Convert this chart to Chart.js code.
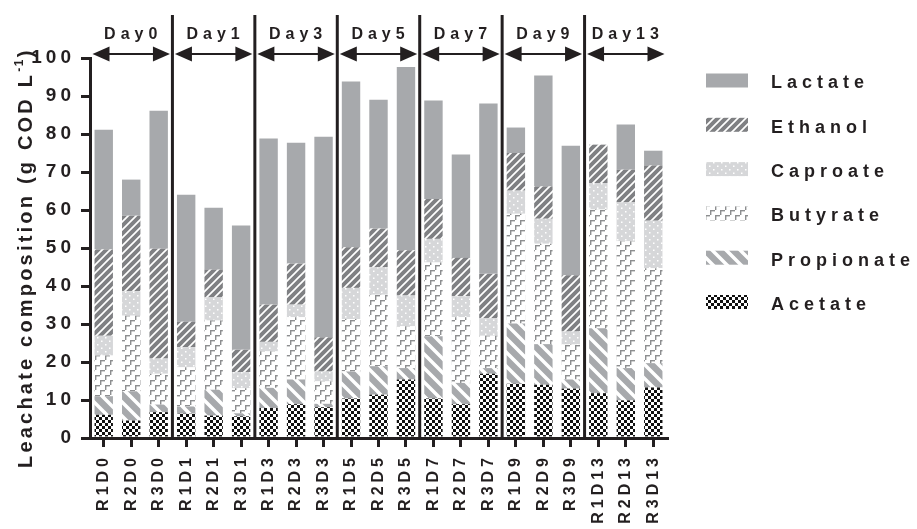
<!DOCTYPE html>
<html>
<head>
<meta charset="utf-8">
<title>Leachate composition</title>
<script src="https://cdn.jsdelivr.net/npm/chart.js@4.4.1/dist/chart.umd.min.js"></script>
<style>
    body { margin: 0; background: #fff; }
    canvas { display: block; }
</style>
</head>
<body>
<canvas id="myChart" width="917" height="529"></canvas>
<script>
// samples: reactor (R1-R3) and sampling day
const labels = [
    'R1D0', 'R2D0', 'R3D0', 'R1D1', 'R2D1', 'R3D1', 'R1D3', 'R2D3', 'R3D3',
    'R1D5', 'R2D5', 'R3D5', 'R1D7', 'R2D7', 'R3D7', 'R1D9', 'R2D9', 'R3D9',
    'R1D13', 'R2D13', 'R3D13'
];
const days = ['Day0', 'Day1', 'Day3', 'Day5', 'Day7', 'Day9', 'Day13'];
const yTicks = [0, 10, 20, 30, 40, 50, 60, 70, 80, 90, 100];

// g COD per litre of leachate
const acetate = [6.1, 4.6, 6.8, 6.4, 5.9, 5.7, 7.9, 8.9, 8.1, 10.4, 11.4, 15.4, 10.4, 8.9, 16.9, 14.3, 14.0, 13.0, 11.8, 9.9, 13.3];
const propionate = [4.9, 7.7, 2.0, 1.9, 6.8, 0.8, 5.3, 6.5, 0.9, 7.1, 7.5, 3.0, 16.4, 5.6, 1.5, 15.8, 10.7, 2.4, 17.1, 8.5, 6.4];
const butyrate = [10.7, 19.9, 8.1, 10.3, 18.2, 6.6, 9.6, 16.4, 5.9, 13.8, 18.8, 11.0, 19.4, 17.3, 8.5, 28.9, 26.4, 9.2, 31.2, 33.4, 25.0];
const caproate = [5.2, 6.4, 4.0, 5.3, 6.1, 4.2, 2.5, 3.3, 2.6, 8.2, 7.2, 8.1, 6.2, 5.5, 4.6, 6.1, 6.6, 3.4, 7.0, 10.2, 12.5];
const ethanol = [22.7, 19.9, 28.9, 6.7, 7.3, 5.9, 9.8, 10.8, 9.0, 10.7, 10.2, 11.9, 10.5, 10.1, 11.7, 9.9, 8.5, 14.8, 10.1, 8.6, 14.5];
const lactate = [31.5, 9.5, 36.3, 33.4, 16.3, 32.7, 43.7, 31.8, 52.8, 43.6, 33.9, 48.2, 25.9, 27.2, 44.8, 6.7, 29.2, 34.1, 0, 11.9, 3.9];

const ink = '#231f20';
const fontFamily = 'Arial, "Liberation Sans", Helvetica, sans-serif';

// small tiles used as bar fills
function makePattern(w, h, paint) {
    const c = document.createElement('canvas');
    c.width = w;
    c.height = h;
    const g = c.getContext('2d');
    paint(g, w, h);
    return g.createPattern(c, 'repeat');
}

const lactateFill = '#a7a9ac';

const ethanolFill = makePattern(8, 8, (g) => {
    g.fillStyle = '#7f8083';
    g.fillRect(0, 0, 8, 8);
    g.strokeStyle = '#fff';
    g.lineWidth = 1.7;
    g.beginPath();
    g.moveTo(-1, 9); g.lineTo(9, -1);
    g.moveTo(-1, 1); g.lineTo(1, -1);
    g.moveTo(7, 9); g.lineTo(9, 7);
    g.stroke();
});

const caproateFill = makePattern(8, 7, (g) => {
    g.fillStyle = '#d6d7d9';
    g.fillRect(0, 0, 8, 7);
    g.fillStyle = '#fff';
    g.fillRect(1, 1, 1.5, 1.5);
    g.fillRect(5, 4.5, 1.5, 1.5);
});

// rows of small gamma-shaped marks on white
const butyrateFill = makePattern(10, 10, (g) => {
    g.fillStyle = '#fff';
    g.fillRect(0, 0, 10, 10);
    g.fillStyle = '#8d8e90';
    g.fillRect(0, 0, 5, 1.4);
    g.fillRect(0, 0, 1.4, 5);
    g.fillRect(5, 5, 5, 1.4);
    g.fillRect(5, 5, 1.4, 5);
});

const propionateFill = makePattern(14, 14, (g) => {
    g.fillStyle = '#a7a9ac';
    g.fillRect(0, 0, 14, 14);
    g.strokeStyle = '#fff';
    g.lineWidth = 3.5;
    g.beginPath();
    g.moveTo(-2, -2); g.lineTo(16, 16);
    g.moveTo(-2, 12); g.lineTo(2, 16);
    g.moveTo(12, -2); g.lineTo(16, 2);
    g.stroke();
});

const acetateFill = makePattern(6, 6, (g) => {
    g.fillStyle = '#fff';
    g.fillRect(0, 0, 6, 6);
    g.fillStyle = '#111';
    g.fillRect(0, 0, 3, 3);
    g.fillRect(3, 3, 3, 3);
});

function arrowHead(ctx, tipX, y, dir) {
    ctx.beginPath();
    ctx.moveTo(tipX, y);
    ctx.lineTo(tipX + dir * 17, y - 7.5);
    ctx.lineTo(tipX + dir * 17, y + 7.5);
    ctx.closePath();
    ctx.fill();
}

// day separators, arrows, legend and the y title
const dayMarks = {
    id: 'dayMarks',
    beforeUpdate(chart) {
        chart.ctx.letterSpacing = '4px';
    },
    beforeDraw(chart) {
        chart.ctx.letterSpacing = '4px';
    },
    afterDraw(chart) {
        const { ctx, chartArea } = chart;
        const x = chart.scales.x;
        ctx.save();

        const edges = [chartArea.left];
        for (let i = 3; i < labels.length; i += 3) {
            edges.push((x.getPixelForValue(i - 1) + x.getPixelForValue(i)) / 2);
        }
        edges.push(chartArea.right);

        ctx.strokeStyle = ink;
        ctx.fillStyle = ink;
        ctx.lineWidth = 3;
        for (let i = 1; i < edges.length - 1; i++) {
            ctx.beginPath();
            ctx.moveTo(edges[i], 15);
            ctx.lineTo(edges[i], chartArea.bottom);
            ctx.stroke();
        }

        ctx.font = 'bold 16px ' + fontFamily;
        ctx.letterSpacing = '5px';
        ctx.textAlign = 'center';
        ctx.textBaseline = 'alphabetic';
        days.forEach((d, i) => {
            const a = edges[i] + 2.5;
            const b = edges[i + 1] - 2.5;
            const y = 54;
            ctx.lineWidth = 2;
            ctx.beginPath();
            ctx.moveTo(a + 10, y);
            ctx.lineTo(b - 10, y);
            ctx.stroke();
            arrowHead(ctx, a, y, 1);
            arrowHead(ctx, b, y, -1);
            ctx.fillText(d, (edges[i] + edges[i + 1]) / 2 + 2, 39);
        });

        // legend, top entry is the top of the stack
        const sets = chart.data.datasets.slice().reverse();
        const boxX = chartArea.right + 39;
        ctx.font = 'bold 18px ' + fontFamily;
        ctx.letterSpacing = '5px';
        ctx.textAlign = 'left';
        ctx.textBaseline = 'middle';
        sets.forEach((ds, i) => {
            const cy = 80.5 + i * 44.3;
            ctx.fillStyle = ds.backgroundColor;
            ctx.fillRect(boxX, cy - 7, 42, 14);
            ctx.fillStyle = ink;
            ctx.fillText(ds.label, boxX + 65, cy + 3);
        });

        // y axis title with superscript
        ctx.translate(31.5, 468);
        ctx.rotate(-Math.PI / 2);
        ctx.textBaseline = 'alphabetic';
        ctx.font = 'bold 20px ' + fontFamily;
        ctx.letterSpacing = '3.2px';
        const main = 'Leachate composition (g COD L';
        ctx.fillText(main, 0, 0);
        let w = ctx.measureText(main).width;
        ctx.font = 'bold 12px ' + fontFamily;
        ctx.letterSpacing = '1.5px';
        ctx.fillText('-1', w, -9);
        w += ctx.measureText('-1').width;
        ctx.font = 'bold 20px ' + fontFamily;
        ctx.letterSpacing = '3.2px';
        ctx.fillText(')', w + 1, 0);

        ctx.restore();
    }
};

const ctx = document.getElementById('myChart').getContext('2d');
const chart = new Chart(ctx, {
    type: 'bar',
    data: {
        labels: labels,
        datasets: [
            { label: 'Acetate', data: acetate, backgroundColor: acetateFill },
            { label: 'Propionate', data: propionate, backgroundColor: propionateFill },
            { label: 'Butyrate', data: butyrate, backgroundColor: butyrateFill },
            { label: 'Caproate', data: caproate, backgroundColor: caproateFill },
            { label: 'Ethanol', data: ethanol, backgroundColor: ethanolFill },
            { label: 'Lactate', data: lactate, backgroundColor: lactateFill }
        ]
    },
    options: {
        responsive: false,
        animation: false,
        barPercentage: 0.67,
        categoryPercentage: 1,
        layout: {
            padding: { top: 58, right: 250, bottom: 0, left: 0 }
        },
        plugins: {
            legend: { display: false },
            tooltip: { enabled: false }
        },
        scales: {
            x: {
                stacked: true,
                grid: {
                    display: true,
                    drawOnChartArea: false,
                    offset: false,
                    tickLength: 9,
                    lineWidth: 3,
                    color: ink
                },
                border: { display: true, width: 3, color: ink },
                ticks: {
                    autoSkip: false,
                    maxRotation: 90,
                    minRotation: 90,
                    padding: 7,
                    color: ink,
                    font: { family: fontFamily, size: 16, weight: 'bold' }
                },
                afterFit: (scale) => { scale.height = 91; }
            },
            y: {
                stacked: true,
                min: 0,
                max: 100,
                afterBuildTicks: (scale) => {
                    scale.ticks = yTicks.map(v => ({ value: v }));
                },
                grid: {
                    display: true,
                    drawOnChartArea: false,
                    tickLength: 9,
                    lineWidth: 3,
                    color: ink
                },
                border: { display: true, width: 3, color: ink },
                ticks: {
                    padding: 6,
                    color: ink,
                    font: { family: fontFamily, size: 19, weight: 'bold' }
                },
                afterFit: (scale) => { scale.width = 90; }
            }
        }
    },
    plugins: [dayMarks]
});
</script>
</body>
</html>
